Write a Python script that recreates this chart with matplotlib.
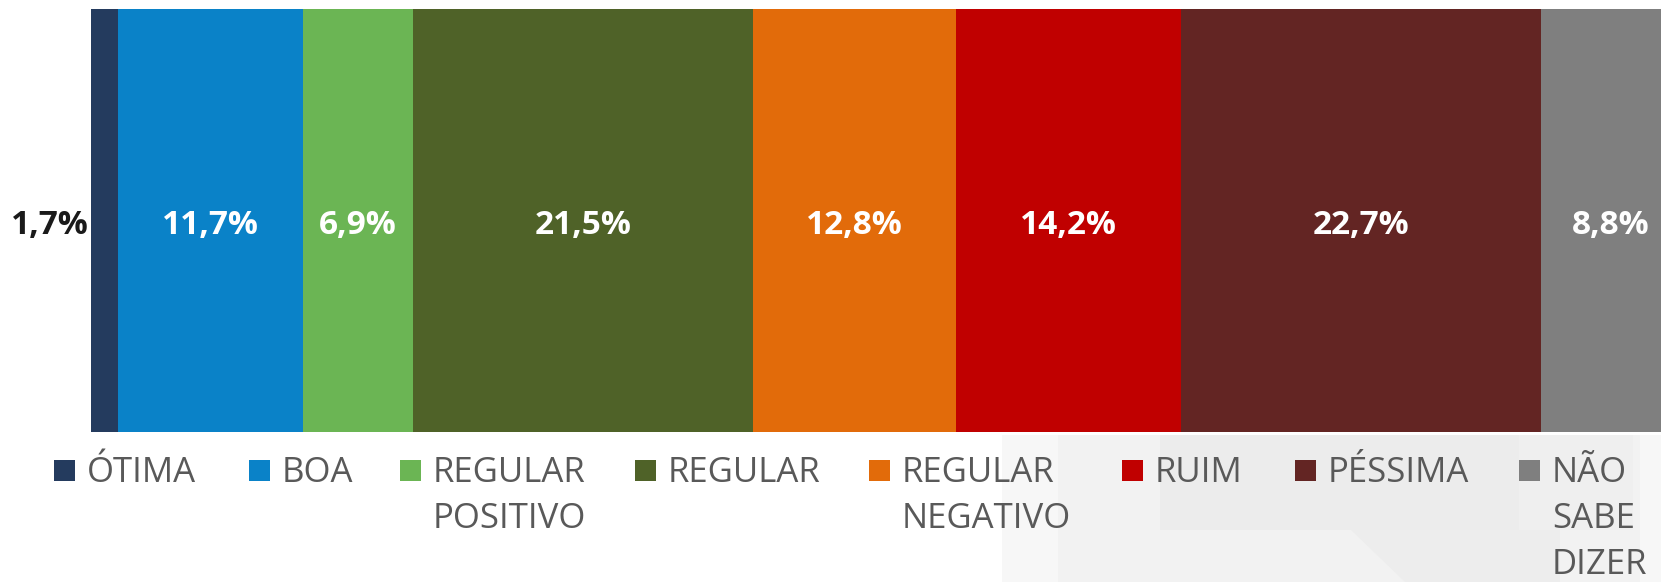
import matplotlib.pyplot as plt
from matplotlib.patches import Polygon, Rectangle

# ==========================================================
#   Avaliação - barra única empilhada (100%)
# ==========================================================

categorias = ['ÓTIMA', 'BOA', 'REGULAR\nPOSITIVO', 'REGULAR', 'REGULAR\nNEGATIVO',
              'RUIM', 'PÉSSIMA', 'NÃO\nSABE\nDIZER']
valores = [1.7, 11.7, 6.9, 21.5, 12.8, 14.2, 22.7, 8.8]
rotulos = ['1,7%', '11,7%', '6,9%', '21,5%', '12,8%', '14,2%', '22,7%', '8,8%']
cores = ['#243b5e', '#0a82c8', '#6bb554', '#4f6228', '#e26b0a', '#c00000', '#632523', '#7f7f7f']

W, H = 1661, 582
fig = plt.figure(figsize=(W / 100, H / 100), dpi=100)
fig.patch.set_facecolor('white')

# fundo do slide (formas cinza claras no canto inferior direito)
def px_poly(pts, color):
    fig.add_artist(Polygon([(x, H - y) for x, y in pts], closed=True, transform=None,
                           facecolor=color, edgecolor='none', zorder=0))

px_poly([(1002, 435), (1661, 435), (1661, 582), (1002, 582)], '#f7f7f7')
px_poly([(1058, 435), (1640, 435), (1640, 582), (1058, 582)], '#f2f2f2')
px_poly([(1160, 435), (1519, 435), (1519, 530), (1160, 530)], '#ececec')
px_poly([(1519, 435), (1633, 435), (1633, 530), (1519, 530)], '#efefef')
px_poly([(1351, 530), (1560, 530), (1560, 582), (1405, 582)], '#ededed')

# eixo da barra (a barra original é cortada na borda direita)
left, right, top, bottom = 91, 1661, 8.5, 432
ax = fig.add_axes([left / W, 1 - bottom / H, (right - left) / W, (bottom - top) / H])
ax.set_facecolor('none')
ax.set_xlim(0, 99.1)
ax.set_ylim(-0.5, 0.5)
ax.axis('off')

plt.rcParams['font.family'] = ['Open Sans', 'DejaVu Sans']

inicio = 0
for i in range(len(valores)):
    b = ax.barh(0, valores[i], left=inicio, height=1, color=cores[i], edgecolor='none')
    if i == 0:
        ax.annotate(rotulos[i], xy=(inicio, 0), xytext=(-2, -5), textcoords='offset pixels',
                    ha='right', va='center', fontsize=24, fontweight='bold', color='#1a1a1a')
    else:
        ax.annotate(rotulos[i], xy=(inicio + valores[i] / 2, 0), xytext=(0, -5),
                    textcoords='offset pixels', ha='center', va='center', fontsize=24,
                    fontweight='bold', color='white')
    inicio += valores[i]

# legenda (manual, texto quebrado em linhas como no original)
leg_x = [54, 249, 400, 635, 869, 1122, 1295, 1519]
sq = 21
for i in range(len(categorias)):
    fig.add_artist(Rectangle((leg_x[i], H - 481), sq, sq, transform=None,
                             facecolor=cores[i], edgecolor='none'))
    for j, linha in enumerate(categorias[i].split('\n')):
        fig.text((leg_x[i] + 33) / W, 1 - (482 + 46 * j) / H, linha, ha='left',
                 va='baseline', fontsize=25, color='#595959')

fig.savefig('out.png', dpi=100)
